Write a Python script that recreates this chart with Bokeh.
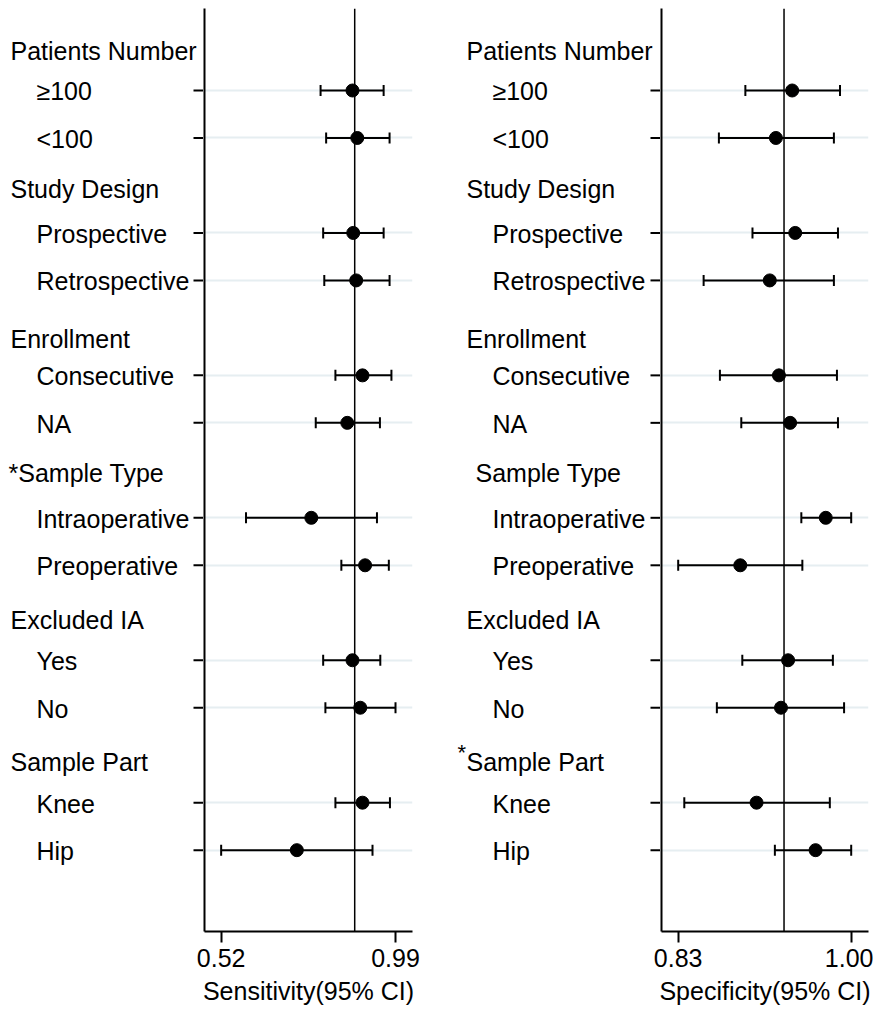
from bokeh.plotting import figure
from bokeh.models import (Range1d, Span, Whisker, ColumnDataSource, FixedTicker,
                          TeeHead)
from bokeh.layouts import row
from bokeh.core.properties import value
from bokeh.embed import file_html
from bokeh.resources import INLINE

# ---- data -------------------------------------------------------------
groups = ["Patients Number", "Study Design", "Enrollment",
          "Sample Type", "Excluded IA", "Sample Part"]
subgroups = ["≥100", "<100", "Prospective", "Retrospective", "Consecutive", "NA",
             "Intraoperative", "Preoperative", "Yes", "No", "Knee", "Hip"]

sens = [0.874, 0.887, 0.876, 0.884, 0.901, 0.860, 0.763, 0.908, 0.874, 0.895, 0.901, 0.724]
sens_lo = [0.788, 0.803, 0.795, 0.798, 0.828, 0.775, 0.587, 0.844, 0.795, 0.801, 0.828, 0.520]
sens_hi = [0.958, 0.974, 0.958, 0.974, 0.979, 0.948, 0.940, 0.972, 0.949, 0.990, 0.975, 0.928]

spec = [0.942, 0.926, 0.945, 0.920, 0.929, 0.940, 0.975, 0.891, 0.938, 0.931, 0.907, 0.965]
spec_lo = [0.896, 0.870, 0.903, 0.855, 0.871, 0.892, 0.951, 0.830, 0.893, 0.868, 0.836, 0.925]
spec_hi = [0.989, 0.983, 0.987, 0.983, 0.986, 0.987, 1.000, 0.952, 0.982, 0.993, 0.979, 1.000]

pooled_sens = 0.88
pooled_spec = 0.934

sens_ticks = [0.52, 0.99]
spec_ticks = [0.83, 1.00]
sens_title = "Sensitivity(95% CI)"
spec_title = "Specificity(95% CI)"

# significant subgroup flags (starred header) for each panel
sens_flagged = "Sample Type"
spec_flagged = "Sample Part"

# ---- layout -----------------------------------------------------------
FONT = value("Liberation Sans")
FS = "25px"
H = 1009
TOP, BOTTOM = 8, 78
Y_RANGE = (18.713, -0.727)          # row units, reversed (first row at top)
TICK_LEN = 10
OVERLAP = 20                        # forest canvas slides under the label column

item_rows = [3 * (i // 2) + 1 + (i % 2) for i in range(len(subgroups))]
header_rows = [0.16, 3.07, 6.23, 9.05, 12.16, 15.14]


def label_panel(width, x_head, x_item, head_dx, starred, star_super):
    p = figure(width=width, height=H, x_range=Range1d(0, width),
               y_range=Range1d(*Y_RANGE), toolbar_location=None,
               output_backend="svg", min_border_left=0, min_border_right=0,
               min_border_top=TOP, min_border_bottom=BOTTOM)
    p.axis.visible = False
    p.grid.visible = False
    p.outline_line_color = None
    p.background_fill_color = "white"
    p.border_fill_color = "white"

    hx, hy, ht = [], [], []
    for g, yv, dx in zip(groups, header_rows, head_dx):
        if g == starred and not star_super:
            ht.append("*" + g)
            hx.append(x_head - 2)
        else:
            ht.append(g)
            hx.append(x_head + dx)
        hy.append(yv)
    p.text(x=hx, y=hy, text=ht, text_font=FONT, text_font_size=FS,
           text_baseline="middle", text_align="left", text_color="black")

    p.text(x=[x_item] * len(subgroups), y=[r + 0.02 for r in item_rows],
           text=subgroups, text_font=FONT, text_font_size=FS,
           text_baseline="middle", text_align="left", text_color="black")

    if star_super:
        i = groups.index(starred)
        p.text(x=[x_head - 9], y=[header_rows[i] - 0.2], text=["*"],
               text_font=FONT, text_font_size="22px",
               text_baseline="middle", text_align="left", text_color="black")

    # outward tick marks of the forest axis that sits just to the right
    p.segment(x0=[width - TICK_LEN] * len(item_rows), x1=[width + 2] * len(item_rows),
              y0=item_rows, y1=item_rows, line_color="black", line_width=2)
    return p


def forest_panel(width, xr, ticks, title, est, lo, hi, pooled, border_right):
    p = figure(width=width + OVERLAP, height=H, x_range=Range1d(*xr),
               y_range=Range1d(*Y_RANGE), toolbar_location=None,
               output_backend="svg", min_border_left=1 + OVERLAP,
               min_border_right=border_right, min_border_top=TOP,
               min_border_bottom=BOTTOM, margin=(0, 0, 0, -OVERLAP))
    p.outline_line_color = None
    p.background_fill_color = "white"
    p.border_fill_color = None

    p.xgrid.visible = False
    p.ygrid.ticker = FixedTicker(ticks=item_rows)
    p.ygrid.grid_line_color = "#e6eef1"
    p.ygrid.grid_line_width = 2

    ya = p.yaxis[0]
    ya.ticker = FixedTicker(ticks=[])
    ya.major_label_standoff = 0
    ya.major_tick_out = 0
    ya.major_tick_in = 0
    ya.minor_tick_out = 0
    ya.minor_tick_in = 0
    ya.axis_line_width = 2
    ya.axis_line_color = "black"

    xa = p.xaxis[0]
    xa.ticker = FixedTicker(ticks=ticks)
    xa.major_label_overrides = {t: f"{t:.2f}" for t in ticks}
    xa.major_label_text_font = "Liberation Sans"
    xa.major_label_text_font_size = FS
    xa.major_label_text_color = "black"
    xa.major_label_standoff = 6
    xa.major_tick_out = 11
    xa.major_tick_in = 0
    xa.minor_tick_out = 0
    xa.minor_tick_in = 0
    xa.axis_line_width = 2
    xa.major_tick_line_width = 2
    xa.axis_line_color = "black"
    xa.major_tick_line_color = "black"
    xa.axis_label = title
    xa.axis_label_text_font = "Liberation Sans"
    xa.axis_label_text_font_size = FS
    xa.axis_label_text_font_style = "normal"
    xa.axis_label_text_color = "black"
    xa.axis_label_standoff = 7

    p.add_layout(Span(location=pooled, dimension="height",
                      line_color="black", line_width=1.5))

    src = ColumnDataSource(dict(row=item_rows, est=est, lo=lo, hi=hi))
    w = Whisker(source=src, base="row", lower="lo", upper="hi",
                dimension="width", line_color="black", line_width=2,
                lower_head=TeeHead(size=11, line_width=2, line_color="black"),
                upper_head=TeeHead(size=11, line_width=2, line_color="black"))
    w.level = "glyph"
    p.add_layout(w)
    p.scatter(x="est", y="row", source=src, size=13, color="black")
    return p


left_labels = label_panel(203, 10, 36, [0] * 6, sens_flagged, False)
left_plot = forest_panel(229, (0.4751, 1.0358), sens_ticks, sens_title,
                         sens, sens_lo, sens_hi, pooled_sens, 20)
right_labels = label_panel(228, 34, 60, [0, 0, 0, 9, 0, 0], spec_flagged, True)
right_plot = forest_panel(213, (0.8136, 1.0170), spec_ticks, spec_title,
                          spec, spec_lo, spec_hi, pooled_spec, 5)

page = row(left_labels, left_plot, right_labels, right_plot)

open("out.html", "w").write(file_html(page, INLINE))
